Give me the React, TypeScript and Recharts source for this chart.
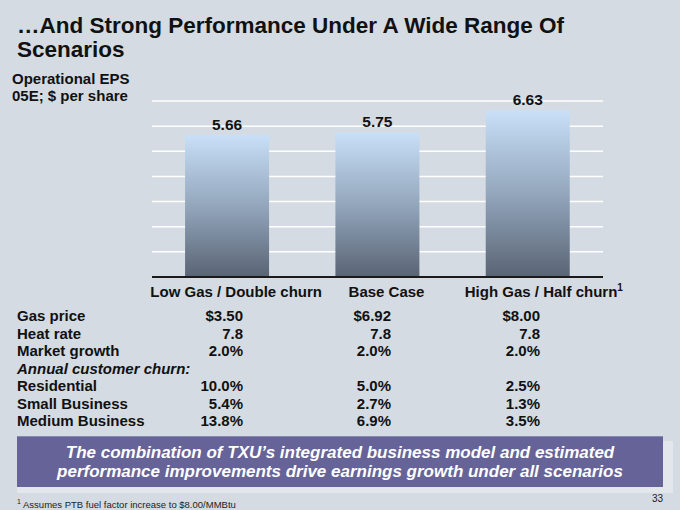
import React from "react";
import {
  BarChart,
  Bar,
  XAxis,
  YAxis,
  CartesianGrid,
  LabelList,
} from "recharts";

const scenarios = ["Low Gas / Double churn", "Base Case", "High Gas / Half churn"];
const scenarioNotes = ["", "", "1"];
const eps = [5.66, 5.75, 6.63];
const yTicks = [0, 1, 2, 3, 4, 5, 6, 7];

const assumptionLabels = [
  "Gas price",
  "Heat rate",
  "Market growth",
  "Annual customer churn:",
  "Residential",
  "Small Business",
  "Medium Business",
];
const lowGasValues = ["$3.50", "7.8", "2.0%", "", "10.0%", "5.4%", "13.8%"];
const baseCaseValues = ["$6.92", "7.8", "2.0%", "", "5.0%", "2.7%", "6.9%"];
const highGasValues = ["$8.00", "7.8", "2.0%", "", "2.5%", "1.3%", "3.5%"];

const FONT = '"Liberation Sans", Arial, Helvetica, sans-serif';
const BG = "#d4dbe2";

const data = scenarios.map((name, i) => ({ name, note: scenarioNotes[i], eps: eps[i] }));

function ScenarioTick(props: any) {
  const { x, y, payload, index } = props;
  const note = scenarioNotes[index];
  // labels sit a little right of the bar centre in the original slide
  const nudge = note ? 16 : 9;
  return (
    <text
      x={x + nudge}
      y={y + 12}
      textAnchor="middle"
      fontFamily={FONT}
      fontSize={15}
      fontWeight="bold"
      fill="#111"
    >
      {payload.value}
      {note ? (
        <tspan dy={-6} fontSize={10}>
          {note}
        </tspan>
      ) : null}
    </text>
  );
}

const valueColumns = [
  { values: lowGasValues, right: 243 },
  { values: baseCaseValues, right: 391 },
  { values: highGasValues, right: 540 },
];

export default function App() {
  return (
    <div
      style={{
        position: "absolute",
        left: 0,
        top: 0,
        width: 680,
        height: 510,
        background: BG,
        fontFamily: FONT,
        color: "#111",
        overflow: "hidden",
      }}
    >
      <div
        style={{
          position: "absolute",
          left: 17,
          top: 14,
          fontSize: 22.5,
          fontWeight: "bold",
          lineHeight: "24px",
          whiteSpace: "nowrap",
        }}
      >
        …And Strong Performance Under A Wide Range Of
        <br />
        Scenarios
      </div>
      <div
        style={{
          position: "absolute",
          left: 12,
          top: 70,
          fontSize: 15,
          fontWeight: "bold",
          lineHeight: "17px",
          whiteSpace: "nowrap",
        }}
      >
        Operational EPS
        <br />
        05E; $ per share
      </div>

      <div style={{ position: "absolute", left: 0, top: 0 }}>
        <BarChart
          width={680}
          height={310}
          data={data}
          margin={{ top: 101, right: 77, bottom: 3, left: 152 }}
          barCategoryGap="22%"
        >
          <defs>
            <linearGradient id="barFill" x1="0" y1="0" x2="0" y2="1">
              <stop offset="0%" stopColor="#c8e0f8" />
              <stop offset="50%" stopColor="#93a6bc" />
              <stop offset="100%" stopColor="#596474" />
            </linearGradient>
          </defs>
          <CartesianGrid vertical={false} stroke="#ffffff" strokeWidth={1.5} />
          <YAxis hide width={0} domain={[0, 7]} ticks={yTicks} />
          <XAxis
            dataKey="name"
            height={30}
            tickLine={false}
            axisLine={{ stroke: "#1a1a1a", strokeWidth: 2 }}
            tick={<ScenarioTick />}
            interval={0}
          />
          <Bar dataKey="eps" fill="url(#barFill)" isAnimationActive={false}>
            <LabelList
              dataKey="eps"
              position="top"
              offset={5}
              formatter={(v: any) => Number(v).toFixed(2)}
              style={{ fontFamily: FONT, fontSize: 15.5, fontWeight: "bold", fill: "#111" }}
            />
          </Bar>
        </BarChart>
      </div>

      {assumptionLabels.map((label, i) => (
        <div
          key={label}
          style={{
            position: "absolute",
            left: 17,
            top: 307 + i * 17.5,
            fontSize: 15,
            fontWeight: "bold",
            fontStyle: i === 3 ? "italic" : "normal",
            lineHeight: "18px",
            whiteSpace: "nowrap",
          }}
        >
          {label}
        </div>
      ))}
      {valueColumns.map((col, c) =>
        col.values.map((v, i) =>
          v ? (
            <div
              key={c + "-" + i}
              style={{
                position: "absolute",
                right: 680 - col.right,
                top: 307 + i * 17.5,
                fontSize: 15,
                fontWeight: "bold",
                lineHeight: "18px",
                whiteSpace: "nowrap",
              }}
            >
              {v}
            </div>
          ) : null
        )
      )}

      <div
        style={{
          position: "absolute",
          left: 17,
          top: 441,
          width: 656,
          height: 52,
          background: "#e3e7ec",
        }}
      />
      <div
        style={{
          position: "absolute",
          left: 17,
          top: 436,
          width: 646,
          height: 51,
          background: "#656398",
          borderTop: "1px solid #8a88b4",
          boxSizing: "border-box",
          color: "#ffffff",
          fontSize: 17,
          fontWeight: "bold",
          fontStyle: "italic",
          textAlign: "center",
          lineHeight: "19px",
          paddingTop: 6,
        }}
      >
        The combination of TXU’s integrated business model and estimated
        <br />
        performance improvements drive earnings growth under all scenarios
      </div>

      <div
        style={{
          position: "absolute",
          left: 17,
          top: 496,
          fontSize: 9.5,
          color: "#222",
          whiteSpace: "nowrap",
          lineHeight: "12px",
        }}
      >
        <sup style={{ fontSize: 7 }}>1</sup> Assumes PTB fuel factor increase to $8.00/MMBtu
      </div>
      <div
        style={{
          position: "absolute",
          right: 17,
          top: 493,
          fontSize: 10,
          color: "#222",
          lineHeight: "12px",
        }}
      >
        33
      </div>
    </div>
  );
}
